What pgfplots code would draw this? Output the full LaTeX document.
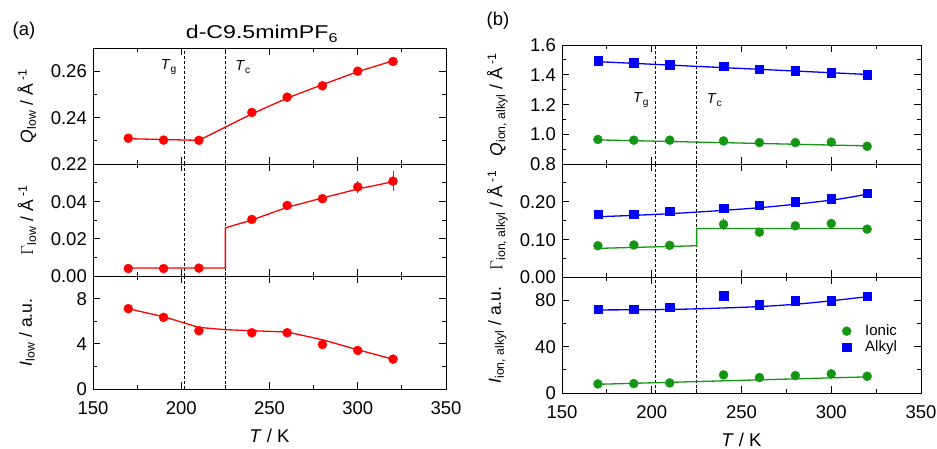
\documentclass[border=0pt]{standalone}
\usepackage{fontspec}
\setmainfont{Liberation Sans}
\newfontfamily\widefont{Liberation Sans}[FakeStretch=1.25]
\usepackage{pgfplots}
\pgfplotsset{compat=1.18}
\definecolor{myred}{RGB}{255,0,0}
\definecolor{mygreen}{RGB}{20,150,20}
\definecolor{myblue}{RGB}{0,0,255}
\newcommand{\tk}{\fontsize{18.5}{20}\selectfont}
\newcommand{\lb}{\fontsize{17.5}{19}\selectfont}
\newcommand{\xl}{\fontsize{18.5}{20}\selectfont}
\newcommand{\inv}{Å\hspace{4pt}\textsuperscript{-1}}
\pgfplotsset{
 panel/.style={
  scale only axis, xmin=150, xmax=350, xtick={150,200,250,300,350}, minor xtick={175,225,275,325},
  tick align=inside, major tick length=7pt, minor tick length=4pt,
  axis line style={line width=0.8pt}, every tick/.append style={line width=0.8pt, black},
  tick label style={font=\tk, inner sep=1pt, text height=13.5pt, text depth=0pt}, /pgf/number format/assume math mode=true,
  scaled y ticks=false,
  every axis y label/.style={at={(axis description cs:-0.187,0.5)}, rotate=90, anchor=center, font=\lb},
  every axis x label/.style={at={(axis description cs:0.5,0)}, anchor=north, yshift=-37pt, font=\xl},
  xticklabel style={yshift=-11pt, /pgf/number format/.cd, fixed, 1000 sep={}},
  yticklabel style={xshift=-5pt},
 },
 inner/.style={xticklabels={}},
 p2/.style={yticklabel style={/pgf/number format/.cd, fixed, fixed zerofill, precision=2}},
 p1/.style={yticklabel style={/pgf/number format/.cd, fixed, fixed zerofill, precision=1}},
 fitline/.style={line width=1.3pt, no marks, forget plot},
 vl/.style={black, line width=0.6pt, dash pattern=on 3pt off 2pt, no marks, forget plot},
 rmark/.style={only marks, mark=*, mark size=4.5pt, color=myred},
 gmark/.style={only marks, mark=*, mark size=4.5pt, color=mygreen},
 bmark/.style={only marks, mark=square*, mark size=4.2pt, color=myblue},
}
\begin{document}
\begin{tikzpicture}
\useasboundingbox (0pt,0pt) rectangle (937pt,449pt);
\node[font=\xl, anchor=base] at (24pt,413pt) {(a)};
\node[font=\xl, anchor=base] at (498pt,423pt) {(b)};
\node[font=\widefont\fontsize{18.5}{20}\selectfont, anchor=base] at (262pt,410pt) {d-C9.5mimPF\textsubscript{6}};
% ---------------- LEFT TOP
\begin{axis}[panel, inner, p2, at={(93pt,285pt)}, anchor=south west, width=353pt, height=116pt,
  ymin=0.22, ymax=0.27, ytick={0.22,0.24,0.26}, minor ytick={0.23,0.25},
  ylabel={\textit{Q}\textsubscript{low} / \inv}]
\addplot[vl] coordinates {(202,0.22) (202,0.27)};
\addplot[vl] coordinates {(225,0.22) (225,0.27)};
\addplot[fitline, myred] coordinates {(170,0.2309) (210,0.2302) (240,0.2416) (260,0.2484) (280,0.2542) (300,0.2598) (320,0.2645)};
\addplot[rmark] coordinates {(170,0.2311) (190,0.2303) (210,0.2302) (240,0.2422) (260,0.2488) (280,0.2537) (300,0.2600) (320,0.2642)};
\node[font=\fontsize{14.5}{16}\selectfont] at (axis cs:193,0.2618) {\textit{T}\textsubscript{g}};
\node[font=\fontsize{14.5}{16}\selectfont] at (axis cs:235,0.2618) {\textit{T}\textsubscript{c}};
\end{axis}
% ---------------- LEFT MID
\begin{axis}[panel, inner, p2, at={(93pt,173pt)}, anchor=south west, width=353pt, height=112pt,
  ymin=0, ymax=0.06, ytick={0,0.02,0.04}, minor ytick={0.01,0.03,0.05},
  ylabel={\ensuremath{\Gamma}\textsubscript{low} / \inv}]
\addplot[vl] coordinates {(202,0) (202,0.06)};
\addplot[vl] coordinates {(225,0) (225,0.06)};
\addplot[fitline, myred] coordinates {(170,0.0043) (225,0.0043) (225,0.0258) (240,0.0300) (260,0.0368) (280,0.0418) (300,0.0466) (320,0.0505)};
\addplot[rmark, error bars/.cd, y dir=both, y explicit, error bar style={line width=0.8pt}, error mark=none] coordinates {(170,0.0040) (190,0.0040) (210,0.0042) (240,0.0303) (260,0.0378) (280,0.0414) (300,0.0477) +- (0,0.0032) (320,0.0508) +- (0,0.0054)};
\end{axis}
% ---------------- LEFT BOTTOM
\begin{axis}[panel, at={(93pt,60pt)}, anchor=south west, width=353pt, height=113pt,
  ymin=0, ymax=10, ytick={0,4,8}, minor ytick={2,6},
  ylabel={\textit{I}\textsubscript{low} / a.u.}, xlabel={\textit{T} / K}]
\addplot[vl] coordinates {(202,0) (202,10)};
\addplot[vl] coordinates {(225,0) (225,10)};
\addplot[fitline, myred] coordinates {(170,7.1) (190,6.4) (210,5.45) (225,5.25) (260,5.04) (280,4.36) (300,3.47) (320,2.64)};
\addplot[rmark, error bars/.cd, y dir=both, y explicit, error bar style={line width=0.8pt}, error mark=none] coordinates {(170,7.11) +- (0,0.35) (190,6.34) (210,5.16) (240,4.98) (260,4.98) (280,3.94) (300,3.41) (320,2.64)};
\end{axis}
% ---------------- RIGHT TOP
\begin{axis}[panel, inner, p1, at={(562pt,285pt)}, anchor=south west, width=359pt, height=119pt,
  every axis y label/.style={at={(axis description cs:-0.18,0.5)}, rotate=90, anchor=center, font=\lb},
  ymin=0.8, ymax=1.6, ytick={0.8,1.0,1.2,1.4,1.6}, minor ytick={0.9,1.1,1.3,1.5},
  ylabel={\textit{Q}\textsubscript{ion, alkyl} / \inv}]
\addplot[vl] coordinates {(202,0.8) (202,1.6)};
\addplot[vl] coordinates {(225,0.8) (225,1.6)};
\addplot[fitline, myblue] coordinates {(170,1.488) (320,1.402)};
\addplot[fitline, mygreen] coordinates {(170,0.962) (320,0.922)};
\addplot[bmark] coordinates {(170,1.494) (190,1.482) (210,1.467) (240,1.456) (260,1.438) (280,1.426) (300,1.415) (320,1.401)};
\addplot[gmark] coordinates {(170,0.965) (190,0.960) (210,0.960) (240,0.955) (260,0.944) (280,0.944) (300,0.947) (320,0.919)};
\node[font=\fontsize{14.5}{16}\selectfont] at (axis cs:194,1.23) {\textit{T}\textsubscript{g}};
\node[font=\fontsize{14.5}{16}\selectfont] at (axis cs:235,1.23) {\textit{T}\textsubscript{c}};
\end{axis}
% ---------------- RIGHT MID
\begin{axis}[panel, inner, p2, at={(562pt,172pt)}, anchor=south west, width=359pt, height=113pt,
  every axis y label/.style={at={(axis description cs:-0.18,0.5)}, rotate=90, anchor=center, font=\lb},
  ymin=0, ymax=0.3, ytick={0,0.1,0.2}, minor ytick={0.05,0.15,0.25},
  ylabel={\ensuremath{\Gamma}\textsubscript{ion, alkyl} / \inv}]
\addplot[vl] coordinates {(202,0) (202,0.3)};
\addplot[vl] coordinates {(225,0) (225,0.3)};
\addplot[fitline, myblue, smooth] coordinates {(170,0.160) (210,0.168) (260,0.184) (300,0.204) (320,0.220)};
\addplot[fitline, mygreen] coordinates {(170,0.076) (225,0.083) (225,0.129) (320,0.129)};
\addplot[bmark] coordinates {(170,0.166) (190,0.166) (210,0.175) (240,0.182) (260,0.190) (280,0.200) (300,0.208) (320,0.222)};
\addplot[gmark, error bars/.cd, y dir=both, y explicit, error bar style={line width=0.8pt}, error mark=none] coordinates {(170,0.083) (190,0.085) (210,0.084) (240,0.140) +- (0,0.016) (260,0.119) (280,0.136) (300,0.142) (320,0.127)};
\end{axis}
% ---------------- RIGHT BOTTOM
\begin{axis}[panel, at={(562pt,56pt)}, anchor=south west, width=359pt, height=116pt,
  every axis y label/.style={at={(axis description cs:-0.18,0.5)}, rotate=90, anchor=center, font=\lb},
  ymin=0, ymax=100, ytick={0,40,80}, minor ytick={20,60},
  ylabel={\textit{I}\textsubscript{ion, alkyl} / a.u.}, xlabel={\textit{T} / K},
  legend style={at={(axis description cs:0.78,0.595)}, anchor=north west, draw=none, fill=none, inner sep=0pt,
    font=\fontsize{15}{16}\selectfont, nodes={inner sep=1pt, text height=10pt, text depth=2pt}, row sep=2pt, column sep=13pt},
  legend cell align=left]
\addplot[vl] coordinates {(202,0) (202,100)};
\addplot[vl] coordinates {(225,0) (225,100)};
\addplot[fitline, myblue, smooth] coordinates {(170,71.6) (210,72) (240,73.3) (260,74.5) (280,76.5) (300,79.5) (320,83)};
\addplot[fitline, mygreen] coordinates {(170,7.5) (320,13.9)};
\addplot[gmark] coordinates {(170,7.8) (190,8.1) (210,8.7) (240,15.6) (260,13.3) (280,15.0) (300,16.5) (320,14.4)};
\addlegendentry{Ionic}
\addplot[bmark] coordinates {(170,72.4) (190,72.0) (210,74.0) (240,83.8) (260,76.0) (280,79.6) (300,79.6) (320,83.2)};
\addlegendentry{Alkyl}
\end{axis}
\end{tikzpicture}
\end{document}
